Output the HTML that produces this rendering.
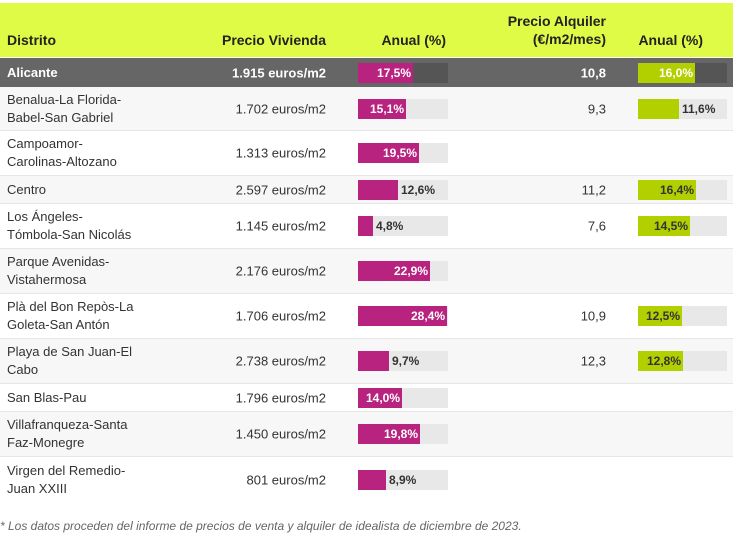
<!DOCTYPE html>
<html><head><meta charset="utf-8"><style>
*{margin:0;padding:0;box-sizing:border-box}
body{width:733px;height:538px;background:#fff;font-family:"Liberation Sans",sans-serif;font-size:13px;color:#333;position:relative;overflow:hidden}
.a{position:absolute}
.hd{background:#e0fb45;left:0;top:3px;width:733px;height:54px}
.h{position:absolute;font-weight:bold;color:#222;font-size:14px;line-height:18px}
.row{position:absolute;left:0;width:733px;border-bottom:1px solid #e6e6e6}
.g{background:#f7f7f7}
.name{position:absolute;left:7px;top:50%;transform:translateY(-50%);line-height:18px}
.pr{position:absolute;right:407px;top:50%;transform:translateY(-50%)}
.rt{position:absolute;right:127px;top:50%;transform:translateY(-50%)}
.bb{position:absolute;top:50%;margin-top:-10px;height:20px;background:#e8e8e8}
.b1{left:358px;width:90px}
.b2{left:638px;width:89px}
.f{position:absolute;left:0;top:0;height:20px}
.m{background:#b8237f}.l{background:#b2cf00}
.in{position:absolute;top:0;line-height:20px;font-weight:bold;font-size:12px;text-align:right;padding-right:2px}
.w{color:#fff}.d{color:#333}
</style></head><body>
<div class="a hd"></div>
<div class="h" style="left:7px;top:31px">Distrito</div>
<div class="h" style="right:407px;top:31px">Precio Vivienda</div>
<div class="h" style="right:287px;top:31px">Anual (%)</div>
<div class="h" style="right:127px;top:12px;text-align:right">Precio Alquiler<br>(€/m2/mes)</div>
<div class="h" style="right:30px;top:31px">Anual (%)</div>

<div class="row" style="top:58px;height:29px;background:#666;color:#fff;font-weight:bold;border:0">
<div class="name">Alicante</div><div class="pr">1.915 euros/m2</div>
<div class="bb b1" style="background:#555"><div class="f m" style="width:55px"></div><div class="in w" style="width:55px">17,5%</div></div>
<div class="rt">10,8</div>
<div class="bb b2" style="background:#555"><div class="f l" style="width:57px"></div><div class="in w" style="width:57px">16,0%</div></div>
</div>

<div class="row g" style="top:87px;height:44px">
<div class="name">Benalua-La Florida-<br>Babel-San Gabriel</div><div class="pr">1.702 euros/m2</div>
<div class="bb b1"><div class="f m" style="width:48px"></div><div class="in w" style="width:48px">15,1%</div></div>
<div class="rt">9,3</div>
<div class="bb b2"><div class="f l" style="width:41px"></div><div class="in d" style="left:44px">11,6%</div></div>
</div>

<div class="row" style="top:131px;height:45px">
<div class="name">Campoamor-<br>Carolinas-Altozano</div><div class="pr">1.313 euros/m2</div>
<div class="bb b1"><div class="f m" style="width:61px"></div><div class="in w" style="width:61px">19,5%</div></div>
</div>

<div class="row g" style="top:176px;height:28px">
<div class="name">Centro</div><div class="pr">2.597 euros/m2</div>
<div class="bb b1"><div class="f m" style="width:40px"></div><div class="in d" style="left:43px">12,6%</div></div>
<div class="rt">11,2</div>
<div class="bb b2"><div class="f l" style="width:58px"></div><div class="in d" style="width:58px">16,4%</div></div>
</div>

<div class="row" style="top:204px;height:45px">
<div class="name">Los Ángeles-<br>Tómbola-San Nicolás</div><div class="pr">1.145 euros/m2</div>
<div class="bb b1"><div class="f m" style="width:15px"></div><div class="in d" style="left:18px">4,8%</div></div>
<div class="rt">7,6</div>
<div class="bb b2"><div class="f l" style="width:52px"></div><div class="in d" style="width:52px">14,5%</div></div>
</div>

<div class="row g" style="top:249px;height:45px">
<div class="name">Parque Avenidas-<br>Vistahermosa</div><div class="pr">2.176 euros/m2</div>
<div class="bb b1"><div class="f m" style="width:72px"></div><div class="in w" style="width:72px">22,9%</div></div>
</div>

<div class="row" style="top:294px;height:45px">
<div class="name">Plà del Bon Repòs-La<br>Goleta-San Antón</div><div class="pr">1.706 euros/m2</div>
<div class="bb b1"><div class="f m" style="width:89px"></div><div class="in w" style="width:89px">28,4%</div></div>
<div class="rt">10,9</div>
<div class="bb b2"><div class="f l" style="width:44px"></div><div class="in d" style="width:44px">12,5%</div></div>
</div>

<div class="row g" style="top:339px;height:45px">
<div class="name">Playa de San Juan-El<br>Cabo</div><div class="pr">2.738 euros/m2</div>
<div class="bb b1"><div class="f m" style="width:31px"></div><div class="in d" style="left:34px">9,7%</div></div>
<div class="rt">12,3</div>
<div class="bb b2"><div class="f l" style="width:45px"></div><div class="in d" style="width:45px">12,8%</div></div>
</div>

<div class="row" style="top:384px;height:28px">
<div class="name">San Blas-Pau</div><div class="pr">1.796 euros/m2</div>
<div class="bb b1"><div class="f m" style="width:44px"></div><div class="in w" style="width:44px">14,0%</div></div>
</div>

<div class="row g" style="top:412px;height:45px">
<div class="name">Villafranqueza-Santa<br>Faz-Monegre</div><div class="pr">1.450 euros/m2</div>
<div class="bb b1"><div class="f m" style="width:62px"></div><div class="in w" style="width:62px">19,8%</div></div>
</div>

<div class="row" style="top:457px;height:45px;border:0">
<div class="name">Virgen del Remedio-<br>Juan XXIII</div><div class="pr">801 euros/m2</div>
<div class="bb b1"><div class="f m" style="width:28px"></div><div class="in d" style="left:31px">8,9%</div></div>
</div>

<div class="a" style="left:0;top:519px;font-size:12px;font-style:italic;color:#666">* Los datos proceden del informe de precios de venta y alquiler de idealista de diciembre de 2023.</div>
</body></html>
